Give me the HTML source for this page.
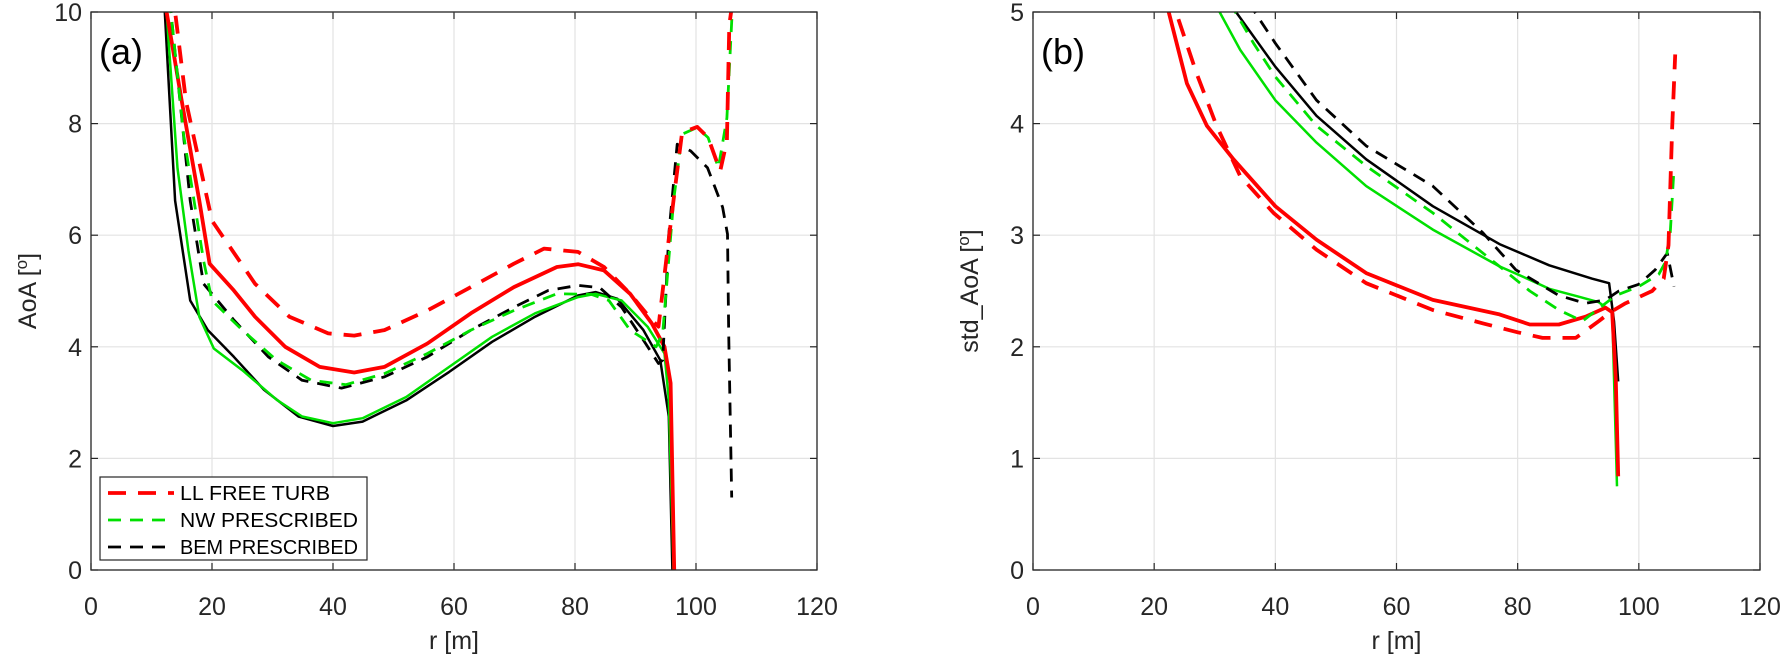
<!DOCTYPE html>
<html><head><meta charset="utf-8">
<style>
html,body{margin:0;padding:0;background:#fff;}
svg{display:block;font-family:"Liberation Sans",Arial,sans-serif;}
</style></head>
<body>
<svg id="chart" width="1786" height="663" viewBox="0 0 1786 663" xmlns="http://www.w3.org/2000/svg"></svg>
<script>
// ---------- data ----------
const xTicks = [0, 20, 40, 60, 80, 100, 120];
const yTicksA = [0, 2, 4, 6, 8, 10];
const yTicksB = [0, 1, 2, 3, 4, 5];
const legendLabels = ["LL FREE TURB", "NW PRESCRIBED", "BEM PRESCRIBED"];

// Panel (a): AoA
const aLLdashR = [12.8,13.9,15.7,20,27.1,32.8,39.2,43.5,48.5,55.6,62.8,69.9,74.9,80.5,84.8,89.1,92.7,93.8,95.2,96.6,97.7,100.2,102,104,105.1,105.5,105.8];
const aLLdashV = [11,10,8.4,6.26,5.13,4.54,4.24,4.2,4.3,4.65,5.07,5.49,5.76,5.7,5.43,4.95,4.48,4.36,5.67,6.9,7.84,7.94,7.75,7.15,7.69,9.77,10];
const aBEMdashR = [12.5,13.2,16.4,18.6,23.6,29.3,34.9,41.4,48.5,55.6,62.8,69.9,75.6,80.5,84.1,87.7,91.3,93.8,94.5,95.5,96.9,99.1,101.9,104.4,105.2,105.4,105.9];
const aBEMdashV = [11,10,6.62,5.13,4.48,3.82,3.4,3.26,3.46,3.82,4.3,4.71,5.01,5.1,5.06,4.71,4.12,3.7,3.76,6.02,7.63,7.51,7.21,6.5,6.02,4.24,1.3];
const aNWdashR = [12.5,13.2,15.3,18.6,20,25,30.7,36.4,42.1,48.5,55.6,62.8,69.9,77,82.7,85.6,89.1,93.4,94.5,96.3,97.7,100.2,102,103.7,105.1,105.9,106];
const aNWdashV = [11,10,7.8,5.55,4.83,4.3,3.76,3.4,3.32,3.52,3.88,4.3,4.65,4.95,4.94,4.83,4.3,4.0,4.24,6.62,7.81,7.93,7.75,7.21,8.1,9.83,10];
const aLLsolR = [12,12.5,15,17.9,19.6,23.6,27.1,32.1,37.8,43.5,48.5,55.6,62.8,69.9,77,80.5,84.8,89.1,92.7,94.8,95.8,96.4];
const aLLsolV = [11,10,8.4,6.62,5.49,5.01,4.54,4.0,3.64,3.54,3.64,4.06,4.6,5.07,5.43,5.48,5.37,4.95,4.42,4.0,3.35,0];
const aNWsolR = [12,12.5,14.3,16.1,17.9,20.3,25,30.7,34.9,40,44.9,52.1,59.2,66.3,73.4,80.5,83.4,87.7,92,94.8,95.5,96.3];
const aNWsolV = [11,10,7.2,5.73,4.54,3.97,3.58,3.05,2.75,2.63,2.72,3.1,3.64,4.18,4.6,4.89,4.95,4.83,4.36,3.88,3.05,0];
const aBEMsolR = [11.8,12.2,13.9,16.4,19.3,23.6,28.6,34.3,40,44.9,52.1,59.2,66.3,73.4,80.5,83.4,87,91.3,94.1,95.5,96.1];
const aBEMsolV = [11,10,6.62,4.83,4.3,3.82,3.23,2.75,2.58,2.66,3.04,3.55,4.09,4.54,4.92,4.98,4.86,4.3,3.76,2.75,0];

// Panel (b): std AoA
const bLLsolR = [22,22.4,25.4,28.7,33.1,40,46.8,55,66,77,82,86.8,91.2,94.5,95.6,96.2,96.6];
const bLLsolV = [5.2,5,4.36,3.98,3.68,3.26,2.96,2.66,2.42,2.29,2.2,2.2,2.27,2.35,2.31,1.7,0.84];
const bLLdashR = [23.2,23.6,27,30.3,34.2,39.7,46.8,55,66,74.3,80,84.1,89.6,93.4,95.3,97.8,102.2,104.1,104.9,105.5,106];
const bLLdashV = [5.2,5,4.45,3.98,3.53,3.2,2.87,2.57,2.33,2.21,2.13,2.08,2.08,2.23,2.31,2.39,2.5,2.61,2.91,3.97,4.62];
const bNWsolR = [30.4,30.8,34.2,40,46.8,55,66,77,82,85.2,90,93.4,95.6,96.4];
const bNWsolV = [5.1,5,4.66,4.21,3.83,3.44,3.05,2.72,2.6,2.52,2.45,2.4,2.31,0.75];
const bNWdashR = [33,33.4,36.4,40,46.8,55,66,77,82,86.8,90.7,94.5,96.2,100,103.3,104.4,105.2,105.8];
const bNWdashV = [5.1,5,4.72,4.42,3.98,3.62,3.2,2.72,2.5,2.33,2.23,2.39,2.46,2.54,2.65,2.76,3.03,3.6];
const bBEMsolR = [33.1,33.5,40,46.8,55,66,77,85.2,92.3,95.1,95.9,96.6];
const bBEMsolV = [5.1,5,4.51,4.07,3.68,3.26,2.92,2.73,2.61,2.57,2.23,1.69];
const bBEMdashR = [36.2,36.6,40,46.8,55,66,74.3,79.7,86.8,91.2,94.5,96.7,100,102.7,104.7,105.8];
const bBEMdashV = [5.1,5,4.72,4.21,3.8,3.44,3.02,2.69,2.46,2.39,2.42,2.5,2.56,2.69,2.84,2.54];

// ---------- drawing ----------
const NS = "http://www.w3.org/2000/svg";
const svg = document.getElementById("chart");
function mk(tag, attrs, parent) {
  const e = document.createElementNS(NS, tag);
  for (const k in attrs) e.setAttribute(k, attrs[k]);
  (parent || svg).appendChild(e);
  return e;
}
const panels = [
  {id:"a", x0:91, x1:817, yTop:12, yBot:570, ymax:10, yTicks:yTicksA, ylab:"AoA [", tag:"(a)"},
  {id:"b", x0:1033, x1:1760, yTop:12, yBot:570, ymax:5, yTicks:yTicksB, ylab:"std_AoA [", tag:"(b)"}
];
function sx(p, v){ return p.x0 + (v/120)*(p.x1-p.x0); }
function sy(p, v){ return p.yBot - (v/p.ymax)*(p.yBot-p.yTop); }

panels.forEach(p => {
  const g = mk("g", {});
  
  
  const clipId = "clip" + p.id;
  const cp = mk("clipPath", {id: clipId}, g);
  mk("rect", {x:p.x0, y:p.yTop, width:p.x1-p.x0, height:p.yBot-p.yTop}, cp);
  xTicks.forEach(t => {
    const x = sx(p,t);
    const l = mk("line", {x1:x, x2:x, y1:p.yTop, y2:p.yBot, stroke:"#e3e3e3", "stroke-width":1.2}, g);
    
    
    const tk = mk("line", {x1:x, x2:x, y1:p.yBot, y2:p.yBot-7, stroke:"#262626", "stroke-width":1.2}, g);
    
    
    const tk2 = mk("line", {x1:x, x2:x, y1:p.yTop, y2:p.yTop+7, stroke:"#262626", "stroke-width":1.2}, g);
    
    
    const tx = mk("text", {x:x, y:p.yBot+45, "font-size":25, fill:"#262626", "text-anchor":"middle"}, g);
    tx.textContent = t;
    
    
  });
  p.yTicks.forEach(t => {
    const y = sy(p,t);
    const l = mk("line", {x1:p.x0, x2:p.x1, y1:y, y2:y, stroke:"#e3e3e3", "stroke-width":1.2}, g);
    
    
    const tk = mk("line", {x1:p.x0, x2:p.x0+7, y1:y, y2:y, stroke:"#262626", "stroke-width":1.2}, g);
    
    
    const tk2 = mk("line", {x1:p.x1, x2:p.x1-7, y1:y, y2:y, stroke:"#262626", "stroke-width":1.2}, g);
    
    
    const tx = mk("text", {x:p.x0-9, y:y+9, "font-size":25, fill:"#262626", "text-anchor":"end"}, g);
    tx.textContent = t;
    
    
  });
  const xl = mk("text", {x:(p.x0+p.x1)/2, y:649, "font-size":25, fill:"#262626", "text-anchor":"middle"}, g);
  xl.textContent = "r [m]";
  
  
  const yx = p.x0 - 55, yy = (p.yTop+p.yBot)/2;
  const yl = mk("text", {x:yx, y:yy, "font-size":25, fill:"#262626", "text-anchor":"middle", transform:`rotate(-90 ${yx} ${yy})`}, g);
  yl.appendChild(document.createTextNode(p.ylab));
  const sup = mk("tspan", {"font-size":17, dy:-9}, yl);
  sup.textContent = "o";
  const cl = mk("tspan", {dy:9}, yl);
  cl.textContent = "]";
  
  
  const pt = mk("text", {x:p.x0+8, y:64, "font-size":36, fill:"#000"}, g);
  pt.textContent = p.tag;
  
  
  p.g = mk("g", {"clip-path":`url(#${clipId})`}, g);
  p.frameParent = g;
});

function series(p, rs, vs, color, width, dash, name) {
  const d = rs.map((r,i) => (i?"L":"M") + sx(p,r).toFixed(1) + "," + sy(p,vs[i]).toFixed(1)).join(" ");
  const path = mk("path", {d:d, fill:"none", stroke:color, "stroke-width":width, "stroke-linejoin":"round", "stroke-dasharray":dash||"none"}, p.g);
  
  
}
const A = panels[0], B = panels[1];
series(A, aBEMsolR, aBEMsolV, "#000", 2.5, null, "bem-prescribed-solid-line");
series(A, aNWsolR, aNWsolV, "#00e000", 2.5, null, "nw-prescribed-solid-line");
series(A, aLLsolR, aLLsolV, "#ff0000", 3.8, null, "ll-free-turb-solid-line");
series(A, aBEMdashR, aBEMdashV, "#000", 2.8, "13 9", "bem-prescribed-dashed-line");
series(A, aNWdashR, aNWdashV, "#00e000", 2.8, "13 9", "nw-prescribed-dashed-line");
series(A, aLLdashR, aLLdashV, "#ff0000", 3.8, "18 12", "ll-free-turb-dashed-line");

series(B, bBEMsolR, bBEMsolV, "#000", 2.5, null, "bem-prescribed-solid-line");
series(B, bNWsolR, bNWsolV, "#00e000", 2.5, null, "nw-prescribed-solid-line");
series(B, bLLsolR, bLLsolV, "#ff0000", 3.8, null, "ll-free-turb-solid-line");
series(B, bBEMdashR, bBEMdashV, "#000", 2.8, "13 9", "bem-prescribed-dashed-line");
series(B, bNWdashR, bNWdashV, "#00e000", 2.8, "13 9", "nw-prescribed-dashed-line");
series(B, bLLdashR, bLLdashV, "#ff0000", 3.8, "18 12", "ll-free-turb-dashed-line");

panels.forEach(p => {
  const f = mk("rect", {x:p.x0, y:p.yTop, width:p.x1-p.x0, height:p.yBot-p.yTop, fill:"none", stroke:"#262626", "stroke-width":1.3}, p.frameParent);
  
  
});

// legend
const lg = mk("g", {});


const lb = mk("rect", {x:100, y:477, width:267, height:83, fill:"#fff", stroke:"#262626", "stroke-width":1.2}, lg);


const legColors = ["#ff0000", "#00e000", "#000"];
const legWidths = [3.8, 2.8, 2.8];
const legDash = ["18 12", "13 9", "13 9"];
legendLabels.forEach((lab, i) => {
  const y = 493 + i*27;
  const e = mk("g", {}, lg);
  
  
  mk("line", {x1:108, x2:174, y1:y, y2:y, stroke:legColors[i], "stroke-width":legWidths[i], "stroke-dasharray":legDash[i]}, e);
  const t = mk("text", {x:180, y:y+7, "font-size":20, fill:"#000", textLength: lab.length > 12 ? 178 : 150, lengthAdjust:"spacingAndGlyphs"}, e);
  t.textContent = lab;
});
</script>
</body></html>
